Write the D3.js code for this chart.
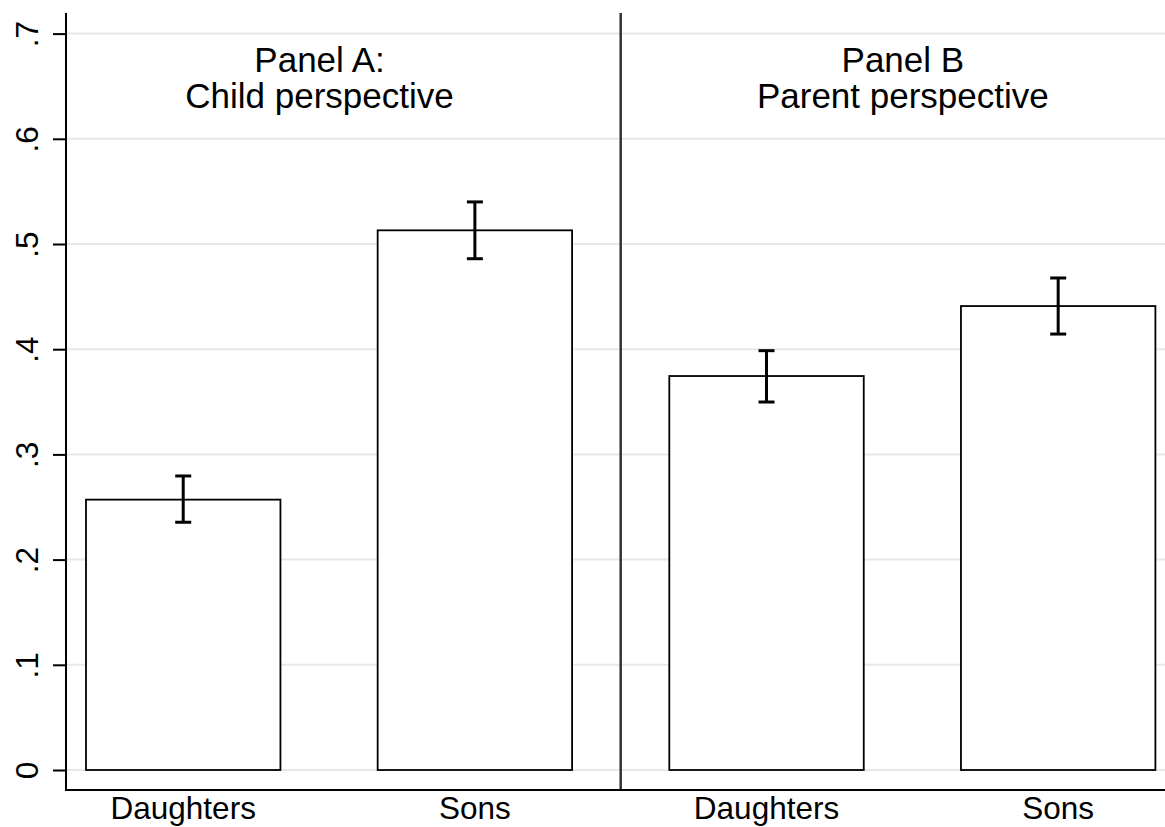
<!DOCTYPE html>
<html>
<head>
<meta charset="utf-8">
<script src="https://cdn.jsdelivr.net/npm/d3@7"></script>
<style>
  html, body { margin: 0; padding: 0; background: #fff; }
  svg { display: block; font-family: "Liberation Sans", Arial, Helvetica, sans-serif; }
</style>
</head>
<body>
<svg id="chart" width="1165" height="827"></svg>
<script>
// Share of children, by gender and perspective (means with 95% CIs)
const categories = ["Daughters", "Sons", "Daughters", "Sons"];
const panels = ["A", "A", "B", "B"];
const means = [0.257, 0.513, 0.3745, 0.441];
const ciLower = [0.2355, 0.486, 0.3498, 0.4144];
const ciUpper = [0.2795, 0.540, 0.3986, 0.4677];
const yTicks = [0, 0.1, 0.2, 0.3, 0.4, 0.5, 0.6, 0.7];
const yTickLabels = ["0", ".1", ".2", ".3", ".4", ".5", ".6", ".7"];
const panelTitles = [["Panel A:", "Child perspective"], ["Panel B", "Parent perspective"]];

const svg = d3.select("#chart");
const W = 1165, H = 827;
const axisX = 66, axisY = 790, plotTop = 13;

const y = d3.scaleLinear().domain([0, 0.7]).range([770, 33.6]);
const x = d3.scaleBand()
  .domain(d3.range(categories.length))
  .range([86, 1155.4])
  .paddingInner(1 / 3)
  .paddingOuter(0);

// gridlines
svg.append("g").selectAll("line").data(yTicks).join("line")
  .attr("x1", axisX).attr("x2", W)
  .attr("y1", d => y(d)).attr("y2", d => y(d))
  .attr("stroke", "#e8e8e8").attr("stroke-width", 2);

// panel divider
const divX = (x(1) + x.bandwidth() + x(2)) / 2;
svg.append("line")
  .attr("x1", divX).attr("x2", divX)
  .attr("y1", plotTop).attr("y2", axisY)
  .attr("stroke", "#333").attr("stroke-width", 2.5);

// bars
svg.append("g").selectAll("rect").data(means).join("rect")
  .attr("x", (d, i) => x(i))
  .attr("y", d => y(d))
  .attr("width", x.bandwidth())
  .attr("height", d => y(0) - y(d))
  .attr("fill", "#fff")
  .attr("stroke", "#000")
  .attr("stroke-width", 1.8);

// error bars
const eb = svg.append("g").attr("stroke", "#000").attr("stroke-width", 3);
means.forEach((m, i) => {
  const cx = x(i) + x.bandwidth() / 2;
  eb.append("line").attr("x1", cx).attr("x2", cx)
    .attr("y1", y(ciUpper[i])).attr("y2", y(ciLower[i]));
  [ciUpper[i], ciLower[i]].forEach(v => {
    eb.append("line").attr("x1", cx - 8).attr("x2", cx + 8)
      .attr("y1", y(v)).attr("y2", y(v));
  });
});

// y axis
const yAxis = d3.axisLeft(y)
  .tickValues(yTicks)
  .tickFormat((d, i) => yTickLabels[i])
  .tickSize(13)
  .tickSizeOuter(0);
const gy = svg.append("g").attr("transform", `translate(${axisX},0)`).call(yAxis);
gy.select(".domain").remove();
gy.selectAll(".tick line").attr("stroke", "#000").attr("stroke-width", 2);
gy.selectAll(".tick text")
  .attr("font-size", 31.5)
  .attr("fill", "#000")
  .attr("text-anchor", "middle")
  .attr("dy", null)
  .attr("x", null)
  .attr("transform", "translate(-28.5,0) rotate(-90)");
svg.append("line")
  .attr("x1", axisX).attr("x2", axisX)
  .attr("y1", plotTop).attr("y2", axisY + 1)
  .attr("stroke", "#000").attr("stroke-width", 2);

// x axis
const xAxis = d3.axisBottom(x)
  .tickFormat(i => categories[i])
  .tickSize(0)
  .tickSizeOuter(0);
const gx = svg.append("g").attr("transform", `translate(0,${axisY})`).call(xAxis);
gx.select(".domain").remove();
gx.selectAll(".tick text")
  .attr("font-size", 31.5)
  .attr("fill", "#000")
  .attr("dy", null)
  .attr("y", 29);
svg.append("line")
  .attr("x1", axisX - 1).attr("x2", W)
  .attr("y1", axisY).attr("y2", axisY)
  .attr("stroke", "#000").attr("stroke-width", 2);

// panel titles
panelTitles.forEach((lines, p) => {
  const key = p === 0 ? "A" : "B";
  const idx = d3.range(panels.length).filter(i => panels[i] === key);
  const cx = d3.mean(idx, i => x(i) + x.bandwidth() / 2) - 9.5;
  const t = svg.append("text")
    .attr("text-anchor", "middle")
    .attr("font-size", 35)
    .attr("fill", "#000");
  lines.forEach((ln, k) => {
    t.append("tspan").attr("x", cx).attr("y", 71.7 + k * 36).text(ln);
  });
});
</script>
</body>
</html>
